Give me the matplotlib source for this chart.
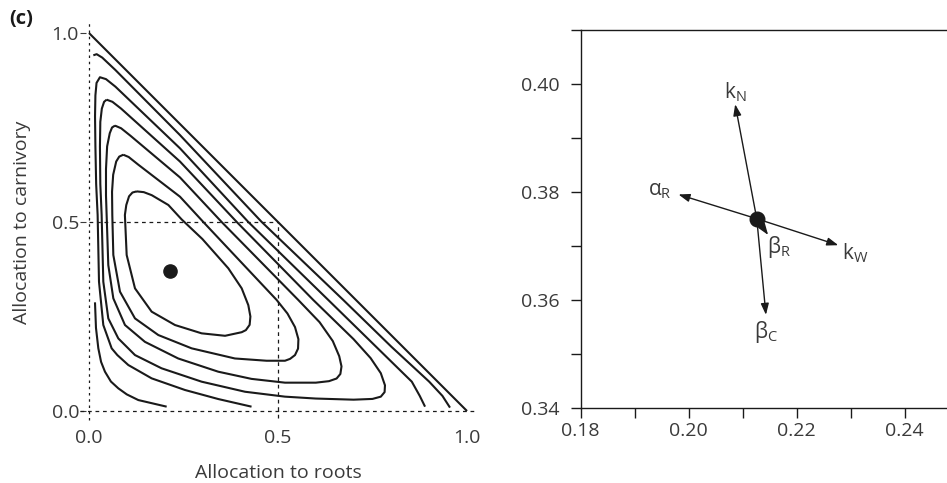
import matplotlib
matplotlib.use("Agg")
import matplotlib.pyplot as plt
from matplotlib.ticker import FixedLocator

plt.rcParams['font.family'] = ['Open Sans', 'DejaVu Sans']
plt.rcParams['mathtext.fontset'] = 'custom'
plt.rcParams['mathtext.rm'] = 'Open Sans'
plt.rcParams['mathtext.it'] = 'Open Sans:italic'

# contour lines of the left panel
line_a_x = [0.0, 0.5, 1.0]
line_a_y = [1.0, 0.5, 0.0]

line_b_x = [0.0115, 0.0203, 0.035, 0.07, 0.2407, 0.457, 0.6728, 0.80, 0.900, 0.935, 0.955]
line_b_y = [0.941, 0.944, 0.935, 0.902, 0.730, 0.500, 0.2937, 0.170, 0.0776, 0.040, 0.009]

line_b2_x = [0.0159, 0.0185, 0.0247, 0.032, 0.0423, 0.058, 0.0776, 0.10, 0.1305, 0.2055]
line_b2_y = [0.2875, 0.22, 0.166, 0.13, 0.104, 0.078, 0.060, 0.044, 0.029, 0.0115]

line_c_x = [0.430, 0.342, 0.254, 0.1658, 0.104, 0.075, 0.060, 0.0379, 0.0265, 0.0229, 0.019,
            0.017, 0.016, 0.017, 0.020, 0.029, 0.045, 0.07, 0.2407, 0.4215, 0.6331, 0.854,
            0.875, 0.889]
line_c_y = [0.0115, 0.0317, 0.0556, 0.0864, 0.1217, 0.148, 0.1658, 0.2275, 0.342, 0.5185, 0.60,
            0.70, 0.78, 0.835, 0.868, 0.883, 0.878, 0.858, 0.695, 0.500, 0.2937, 0.0776,
            0.040, 0.0115]

line_d_x = [0.0467, 0.062, 0.085, 0.2407, 0.391, 0.5934, 0.70, 0.745, 0.772, 0.783, 0.782,
            0.772, 0.75, 0.70, 0.60, 0.5185, 0.4127, 0.298, 0.192, 0.1217, 0.0776, 0.0511,
            0.0379, 0.0335, 0.030, 0.029, 0.030, 0.034, 0.040, 0.0467]
line_d_y = [0.8236, 0.818, 0.800, 0.660, 0.500, 0.2937, 0.19, 0.14, 0.10, 0.068, 0.050,
            0.038, 0.032, 0.030, 0.033, 0.038, 0.051, 0.0776, 0.113, 0.148, 0.192, 0.245,
            0.342, 0.5185, 0.60, 0.70, 0.765, 0.800, 0.818, 0.8236]

line_e_x = [0.0688, 0.085, 0.11, 0.2407, 0.351, 0.5537, 0.61, 0.645, 0.662, 0.668, 0.665,
            0.655, 0.635, 0.60, 0.5185, 0.43, 0.342, 0.236, 0.148, 0.0952, 0.0644, 0.0511,
            0.0467, 0.045, 0.045, 0.048, 0.055, 0.061, 0.0688]
line_e_y = [0.755, 0.748, 0.728, 0.618, 0.500, 0.2937, 0.235, 0.185, 0.145, 0.118, 0.098,
            0.086, 0.079, 0.075, 0.075, 0.085, 0.104, 0.139, 0.183, 0.2275, 0.298, 0.386,
            0.5185, 0.57, 0.64, 0.70, 0.735, 0.75, 0.755]

line_f_x = [0.0908, 0.105, 0.13, 0.2407, 0.3025, 0.4965, 0.525, 0.545, 0.554, 0.553, 0.545,
            0.532, 0.5185, 0.47, 0.386, 0.2716, 0.1834, 0.1217, 0.082, 0.0644, 0.0617, 0.061,
            0.064, 0.072, 0.08, 0.0908]
line_f_y = [0.678, 0.672, 0.652, 0.567, 0.500, 0.2937, 0.258, 0.222, 0.19, 0.165, 0.148,
            0.138, 0.133, 0.133, 0.139, 0.1658, 0.201, 0.245, 0.3157, 0.4127, 0.5185, 0.58,
            0.625, 0.66, 0.673, 0.678]

line_g_x = [0.126, 0.145, 0.166, 0.210, 0.245, 0.30, 0.3686, 0.404, 0.4215, 0.427, 0.425,
            0.415, 0.404, 0.36, 0.298, 0.2275, 0.1658, 0.1217, 0.0997, 0.0950, 0.0987, 0.106,
            0.115, 0.126]
line_g_y = [0.581, 0.579, 0.571, 0.545, 0.507, 0.455, 0.3775, 0.3245, 0.280, 0.250, 0.228,
            0.214, 0.2085, 0.199, 0.2055, 0.2275, 0.2628, 0.3245, 0.4127, 0.5185, 0.545, 0.568,
            0.578, 0.581]

optimum_left = (0.2143, 0.371)

# right panel: optimum and sensitivity arrows
optimum_right = (0.2126, 0.3751)
arrow_names = ['k$_\\mathrm{N}$', 'α$_\\mathrm{R}$', 'k$_\\mathrm{W}$', 'β$_\\mathrm{C}$', 'β$_\\mathrm{R}$']
arrow_tip_x = [0.2086, 0.1981, 0.2277, 0.2143, 0.2147]
arrow_tip_y = [0.3963, 0.3796, 0.3702, 0.3573, 0.3721]
label_x = [0.2087, 0.1947, 0.2309, 0.2144, 0.2167]
label_y = [0.3986, 0.3804, 0.3687, 0.3542, 0.3698]

ink = '#1a1a1a'
txt = '#3a3a3a'

fig = plt.figure(figsize=(9.47, 4.83), dpi=100)

# ---- left panel
ax1 = fig.add_axes([0.0740, 0.1099, 0.4391, 0.8609])
ax1.set_xlim(-0.05, 1.05)
ax1.set_ylim(-0.05, 1.05)

curves = [(line_a_x, line_a_y), (line_b_x, line_b_y), (line_b2_x, line_b2_y),
          (line_c_x, line_c_y), (line_d_x, line_d_y), (line_e_x, line_e_y),
          (line_f_x, line_f_y), (line_g_x, line_g_y)]
for cx, cy in curves:
    ax1.plot(cx, cy, color=ink, lw=1.5, solid_capstyle='butt', solid_joinstyle='round')

# dotted guide lines
ax1.plot([0, 0], [-0.025, 1.03], color=ink, lw=0.9, ls=(0, (2, 3)))
ax1.plot([-0.025, 1.02], [0, 0], color=ink, lw=0.9, ls=(0, (3, 3)))
ax1.plot([0.5, 0.5], [-0.018, 0.5], color=ink, lw=0.9, ls=(0, (3, 3)))
ax1.plot([0, 0.5], [0.5, 0.5], color=ink, lw=0.9, ls=(0, (3, 3)))

ax1.plot(*optimum_left, 'o', color=ink, ms=9.5)

for s in ax1.spines.values():
    s.set_visible(False)
ax1.spines['left'].set_position(('data', -0.008))
ax1.spines['bottom'].set_position(('data', 0))
ax1.set_xticks([0.0, 0.5, 1.0])
ax1.set_yticks([0.0, 0.5, 1.0])
ax1.set_xticklabels(['0.0', '0.5', '1.0'])
ax1.set_yticklabels(['0.0', '0.5', '1.0'])
ax1.tick_params(axis='y', length=4, width=0.8, color=txt, pad=1, labelsize=14, labelcolor=txt)
ax1.tick_params(axis='x', length=0, pad=13, labelsize=14, labelcolor=txt)
ax1.set_xlabel('Allocation to roots', fontsize=14, color=txt, labelpad=12)
ax1.set_ylabel('Allocation to carnivory', fontsize=14, color=txt, labelpad=15)

fig.text(0.010, 0.960, '(c)', fontsize=14.5, fontweight='bold', color=ink, va='center')

# ---- right panel
ax2 = fig.add_axes([0.6132, 0.1547, 0.3992, 0.7826])
ax2.set_xlim(0.18, 0.25)
ax2.set_ylim(0.34, 0.41)
ax2.spines['right'].set_visible(False)
for s in ['left', 'bottom', 'top']:
    ax2.spines[s].set_color(ink)
    ax2.spines[s].set_linewidth(1.0)

ax2.xaxis.set_major_locator(FixedLocator([0.18, 0.20, 0.22, 0.24]))
ax2.xaxis.set_minor_locator(FixedLocator([0.19, 0.21, 0.23, 0.25]))
ax2.yaxis.set_major_locator(FixedLocator([0.34, 0.36, 0.38, 0.40]))
ax2.yaxis.set_minor_locator(FixedLocator([0.35, 0.37, 0.39, 0.41]))
ax2.set_xticklabels(['0.18', '0.20', '0.22', '0.24'])
ax2.set_yticklabels(['0.34', '0.36', '0.38', '0.40'])
ax2.tick_params(which='both', direction='out', length=7, width=1.0, color=ink,
                labelsize=14, labelcolor=txt)
ax2.tick_params(axis='y', which='major', pad=8)
ax2.tick_params(axis='x', which='major', pad=3)

for name, tx, ty, lx, ly in zip(arrow_names, arrow_tip_x, arrow_tip_y, label_x, label_y):
    ax2.annotate('', xy=(tx, ty), xytext=optimum_right,
                 arrowprops=dict(arrowstyle='-|>,head_length=0.45,head_width=0.16',
                                 mutation_scale=15, color=ink, lw=1.0,
                                 shrinkA=0, shrinkB=0))
    ax2.text(lx, ly, name, fontsize=15, color=txt, ha='center', va='center')

ax2.plot(*optimum_right, 'o', color=ink, ms=10.5, zorder=5)

fig.savefig('out.png', dpi=100)
